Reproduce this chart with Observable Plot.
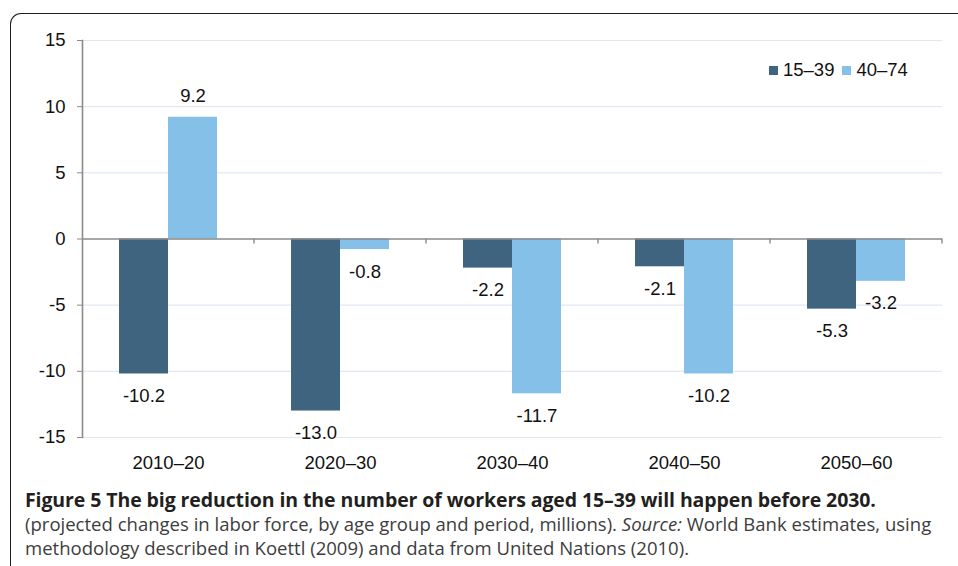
<!DOCTYPE html>
<html>
<head>
<meta charset="utf-8">
<script src="https://cdn.jsdelivr.net/npm/d3@7"></script>
<script src="https://cdn.jsdelivr.net/npm/@observablehq/plot@0.6"></script>
<style>
  html, body { margin: 0; padding: 0; background: #fff; }
  #wrap { position: relative; width: 958px; height: 566px; overflow: hidden; }
  #frame { position: absolute; left: 10px; top: 13px; width: 1000px; height: 600px;
           border-top: 1.5px solid #1e1e1e; border-left: 1.5px solid #1e1e1e; border-top-left-radius: 11px; }
  #chart { position: absolute; left: 0; top: 0; }
  #legend { position: absolute; left: 769px; top: 59px; font-family: "Liberation Sans", Arial, sans-serif;
            font-size: 18.5px; color: #111; display: flex; align-items: center; }
  #legend .sw { display: inline-block; width: 9px; height: 9px; margin-right: 5px; }
  #legend .it { display: flex; align-items: center; margin-right: 8px; }
  #caption { position: absolute; left: 25px; top: 488px; font-family: "Open Sans", sans-serif;
             font-size: 18.55px; line-height: 24px; color: #3d3d3d; width: 940px; white-space: nowrap; }
  #caption b { color: #231f20; font-size: 19.5px; letter-spacing: -0.1px; }
</style>
</head>
<body>
<div id="wrap">
  <div id="frame"></div>
  <div id="chart"></div>
  <div id="legend"></div>
  <div id="caption"></div>
</div>
<script>
const periods = ["2010–20", "2020–30", "2030–40", "2040–50", "2050–60"];
const seriesNames = ["15–39", "40–74"];
const young = [-10.2, -13.0, -2.2, -2.1, -5.3];
const old = [9.2, -0.8, -11.7, -10.2, -3.2];
const yTicks = [-15, -10, -5, 0, 5, 10, 15];
const colors = ["#3f6480", "#85c0e9"];

const data = [];
periods.forEach((p, i) => {
  data.push({period: p, series: seriesNames[0], value: young[i]});
  data.push({period: p, series: seriesNames[1], value: old[i]});
});

const W = 958, H = 480;
const fontFam = "Liberation Sans, Arial, sans-serif";

const chart = Plot.plot({
  width: W,
  height: H,
  marginLeft: 80,
  marginRight: 15,
  marginTop: 40,
  marginBottom: 43,
  style: {fontFamily: fontFam, fontSize: "18.5px", color: "#111", background: "transparent", overflow: "visible"},
  y: {domain: [-15, 15], label: null},
  fx: {domain: periods, padding: 0, label: null},
  x: {domain: seriesNames, padding: 0, paddingOuter: 0.74, label: null},
  color: {domain: seriesNames, range: colors},
  marks: [
    Plot.ruleY(yTicks.filter(d => d !== 0), {stroke: "#e1e8f2", strokeWidth: 1.2}),
    Plot.barY(data, {fx: "period", x: "series", y: "value", fill: "series", inset: 0}),
    Plot.ruleY([0], {stroke: "#8a8a8a", strokeWidth: 1.6}),
    Plot.text(data.filter(d => d.value >= 0), {fx: "period", x: "series", y: "value", text: d => d.value.toFixed(1), dy: -21, fill: "#111"}),
    Plot.text(data.filter(d => d.value < 0), {fx: "period", x: "series", y: "value", text: d => d.value.toFixed(1), dy: 22, fill: "#111"}),
    Plot.axisY({ticks: yTicks, tickSize: 5, tickPadding: 12, stroke: "#8a8a8a", tickFormat: d => String(d), facetAnchor: "left", label: null}),
    Plot.axisX({ticks: [], label: null}),
    Plot.axisFx({anchor: "bottom", tickSize: 0, tickPadding: 18, label: null}),
    Plot.frame({anchor: "left", stroke: "#8a8a8a", strokeWidth: 1.6, facetAnchor: "left"})
  ]
});
document.getElementById("chart").appendChild(chart);

// boundary tick marks on the zero line, from the library's scales
const fx = chart.scale("fx");
const ys = chart.scale("y");
const svg = d3.select(chart);
const y0 = ys.apply(0);
periods.forEach(p => {
  const xr = fx.apply(p) + fx.bandwidth;
  svg.append("line").attr("x1", xr).attr("x2", xr).attr("y1", y0).attr("y2", y0 + 5)
    .attr("stroke", "#8a8a8a").attr("stroke-width", 1.4);
});

const legend = document.getElementById("legend");
seriesNames.forEach((s, i) => {
  const it = document.createElement("span");
  it.className = "it";
  it.innerHTML = `<span class="sw" style="background:${colors[i]}"></span>${s}`;
  legend.appendChild(it);
});

document.getElementById("caption").innerHTML =
  `<b>Figure 5 The big reduction in the number of workers aged 15–39 will happen before 2030.</b><br>` +
  `(projected changes in labor force, by age group and period, millions). <i>Source:</i> World Bank estimates, using<br>` +
  `methodology described in Koettl (2009) and data from United Nations (2010).`;
</script>
</body>
</html>
